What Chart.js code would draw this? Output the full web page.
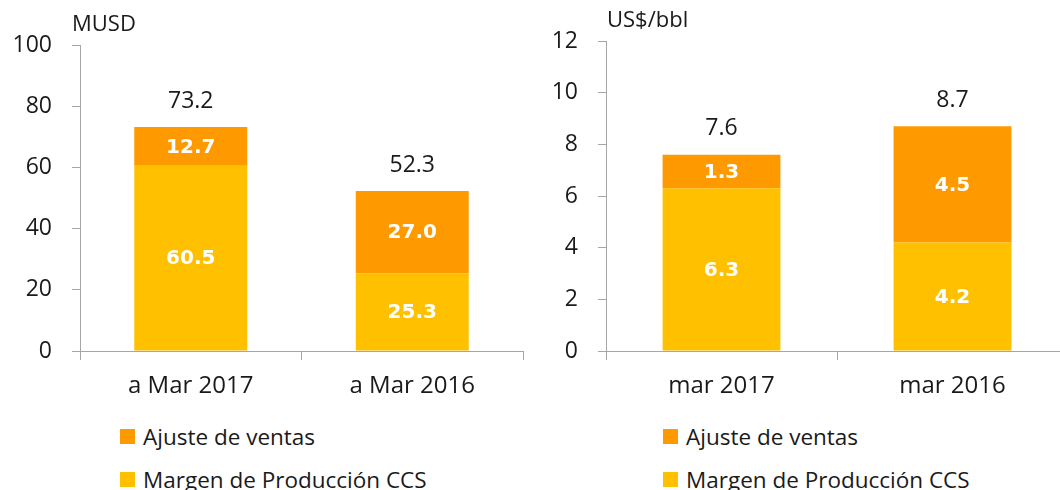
<!DOCTYPE html>
<html><head><meta charset="utf-8">
<script src="https://cdn.jsdelivr.net/npm/chart.js@4.4.1/dist/chart.umd.min.js"></script>
<style>
html,body{margin:0;padding:0;background:#fff;overflow:hidden;width:1060px;height:490px;}
.wrap{position:absolute;top:0;height:400px;}
#w1{left:0;width:530px;} #w2{left:530px;width:540px;}
.legend{position:absolute;font-family:'Open Sans',sans-serif;font-size:22.5px;color:#1a1a1a;}
.li{position:absolute;white-space:nowrap;display:flex;align-items:center;height:30px;}
.sw{width:15px;height:15px;margin-right:8px;flex:none;}
</style></head>
<body>
<div class="wrap" id="w1"><canvas id="c1" width="530" height="400"></canvas></div>
<div class="wrap" id="w2"><canvas id="c2" width="540" height="400"></canvas></div>
<div class="legend" id="lg1" style="left:120px;top:0;"></div>
<div class="legend" id="lg2" style="left:663px;top:0;"></div>
<script>
// ---- data ----
const leftCategories = ['a Mar 2017', 'a Mar 2016'];
const leftMargen = [60.5, 25.3];
const leftAjuste = [12.7, 27.0];
const leftUnit = 'MUSD';
const leftMax = 100, leftStep = 20;

const rightCategories = ['mar 2017', 'mar 2016'];
const rightMargen = [6.3, 4.2];
const rightAjuste = [1.3, 4.5];
const rightUnit = 'US$/bbl';
const rightMax = 12, rightStep = 2;

const seriesLabels = ['Margen de Producción CCS', 'Ajuste de ventas'];
const seriesColors = ['#FFC000', '#FF9900'];
// ---------------

const FONT = "'Open Sans', sans-serif";
const TEXT = '#1a1a1a';
const AXIS = '#a6a6a6';

const labelPlugin = {
  id: 'barLabels',
  afterDatasetsDraw(chart, args, opts) {
    const ctx = chart.ctx;
    ctx.save();
    ctx.textAlign = 'center';
    ctx.textBaseline = 'middle';
    chart.data.datasets.forEach((ds, di) => {
      const meta = chart.getDatasetMeta(di);
      meta.data.forEach((el, i) => {
        ctx.font = 'bold 20px "DejaVu Sans"';
        ctx.fillStyle = '#ffffff';
        ctx.fillText(ds.data[i].toFixed(1), el.x, (el.y + el.base) / 2 + 1);
      });
    });
    const last = chart.getDatasetMeta(chart.data.datasets.length - 1);
    last.data.forEach((el, i) => {
      const total = chart.data.datasets.reduce((s, d) => s + d.data[i], 0);
      ctx.font = '23px ' + FONT;
      ctx.fillStyle = TEXT;
      ctx.fillText(total.toFixed(1), el.x, el.y - opts.totalOffset);
    });
    ctx.textAlign = 'left';
    ctx.font = '22px ' + FONT;
    ctx.fillStyle = TEXT;
    ctx.fillText(opts.unit, chart.chartArea.left + opts.unitDx, opts.unitY);
    ctx.restore();
  }
};

function makeChart(id, cats, margen, ajuste, unit, max, step, yWidth, padTop, padRight, unitDx, unitY) {
  return new Chart(document.getElementById(id), {
    type: 'bar',
    data: {
      labels: cats,
      datasets: [
        { label: seriesLabels[0], data: margen, backgroundColor: seriesColors[0], borderWidth: 0 },
        { label: seriesLabels[1], data: ajuste, backgroundColor: seriesColors[1], borderWidth: 0 }
      ]
    },
    options: {
      responsive: false,
      animation: false,
      layout: { padding: { top: padTop, right: padRight, left: 0, bottom: 0 } },
      datasets: { bar: { barPercentage: 0.51, categoryPercentage: 1.0 } },
      plugins: {
        legend: { display: false },
        tooltip: { enabled: false },
        barLabels: { totalOffset: 26, unit: unit, unitDx: unitDx, unitY: unitY }
      },
      scales: {
        x: {
          stacked: true,
          grid: { display: true, drawOnChartArea: false, drawTicks: true, tickLength: 9, color: AXIS, lineWidth: 1 },
          border: { display: true, color: AXIS, width: 1 },
          ticks: { color: TEXT, font: { family: FONT, size: 24 }, padding: 12, maxRotation: 0 },
          afterFit(s) { s.height = 49; }
        },
        y: {
          stacked: true,
          min: 0, max: max,
          grid: { display: true, drawOnChartArea: false, drawTicks: true, tickLength: 8, color: AXIS, lineWidth: 1 },
          border: { display: true, color: AXIS, width: 1 },
          ticks: { stepSize: step, color: TEXT, font: { family: FONT, size: 23 }, padding: 20 },
          afterFit(s) { s.width = yWidth; }
        }
      }
    },
    plugins: [labelPlugin]
  });
}

makeChart('c1', leftCategories, leftMargen, leftAjuste, leftUnit, leftMax, leftStep, 80, 45, 7, -8, 25);
makeChart('c2', rightCategories, rightMargen, rightAjuste, rightUnit, rightMax, rightStep, 76, 41, 2, 1, 21);

function buildLegend(id) {
  const el = document.getElementById(id);
  const order = [1, 0];
  order.forEach((k, row) => {
    const li = document.createElement('div');
    li.className = 'li';
    li.style.top = (421 + row * 43) + 'px';
    const sw = document.createElement('span');
    sw.className = 'sw';
    sw.style.background = seriesColors[k];
    const tx = document.createElement('span');
    tx.textContent = seriesLabels[k];
    li.appendChild(sw); li.appendChild(tx);
    el.appendChild(li);
  });
}
buildLegend('lg1');
buildLegend('lg2');
</script>
</body></html>
